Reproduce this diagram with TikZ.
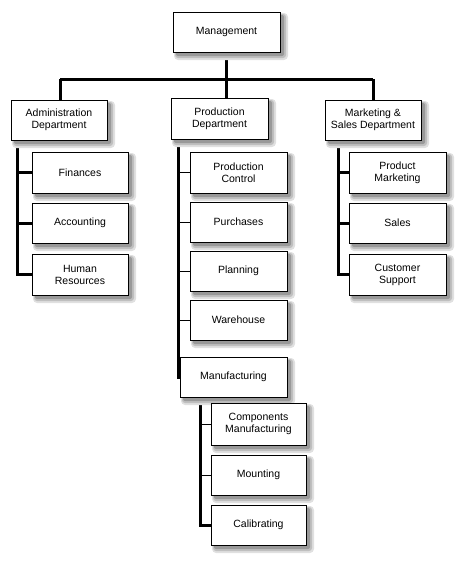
\documentclass[tikz,border=0pt]{standalone}
\usepackage{fontspec}
\setmainfont{Liberation Sans}
\begin{document}
\begin{tikzpicture}[x=1pt,y=-1pt,
  box/.style={draw=black,line width=1pt,fill=white,align=center,font=\fontsize{10.5}{12}\selectfont},
  shad/.style={fill=black!#1,draw=none},
  thick line/.style={line width=3pt},
  thin line/.style={line width=1pt}]
\useasboundingbox (0,0) rectangle (474,573);
\newcommand{\bx}[6]{%
  \fill[black!12,rounded corners=4pt] (#2+1,#4+1) rectangle (#3+8,#5+8);
  \fill[black!25,rounded corners=3pt] (#2+2,#4+2) rectangle (#3+6,#5+6);
  \fill[black!40,rounded corners=2pt] (#2+3,#4+3) rectangle (#3+4,#5+4);
  \node[box,minimum width=#3-#2,minimum height=#5-#4] (#1) at ({(#2+#3)/2},{(#4+#5)/2}) {#6};}
\coordinate (hl) at (60,79); \coordinate (hr) at (373,79);
\coordinate (al) at (17,140); \coordinate (pl) at (178,139); \coordinate (ml) at (338,140); \coordinate (fl) at (200,397);
\draw[thick line] (hl) -- (hr);
\draw[thick line] (226,52) -- (226,79);
\draw[thick line] (hl) -- (60,100);
\draw[thick line] (hr) -- (373,100);
\draw[thick line] (226,79) -- (226,98);
\draw[thick line] (al) -- (17,274) -- (32,274);
\draw[thick line] (17,172) -- (32,172);
\draw[thick line] (17,223) -- (32,223);
\draw[thick line] (pl) -- (178,377) -- (180,377);
\draw[thick line] (ml) -- (338,274) -- (349,274);
\draw[thick line] (338,172) -- (349,172);
\draw[thick line] (338,223) -- (349,223);
\draw[thick line] (fl) -- (200,525) -- (211,525);
\foreach \y in {172,222,271,320} \draw[thin line] (178,\y) -- (190,\y);
\foreach \y in {424,475} \draw[thin line] (200,\y) -- (211,\y);
\bx{mgmt}{173}{280}{12}{52}{Management}
\bx{adm}{11}{107}{100}{140}{Administration\\Department}
\bx{prod}{171}{268}{98}{139}{Production\\Department}
\bx{mkt}{325}{421}{100}{140}{Marketing \&\\Sales Department}
\bx{fin}{32}{128}{152}{193}{Finances}
\bx{acc}{32}{128}{203}{243}{Accounting}
\bx{hr}{32}{128}{254}{295}{Human\\Resources}
\bx{pc}{190}{287}{152}{193}{Production\\Control}
\bx{pur}{190}{287}{202}{242}{Purchases}
\bx{pla}{190}{287}{251}{291}{Planning}
\bx{war}{190}{287}{300}{340}{Warehouse}
\bx{man}{180}{287}{357}{397}{Manufacturing}
\bx{cm}{211}{306}{403}{445}{Components\\Manufacturing}
\bx{mou}{211}{306}{455}{495}{Mounting}
\bx{cal}{211}{306}{505}{545}{Calibrating}
\bx{pm}{349}{446}{152}{193}{Product\\Marketing}
\bx{sal}{349}{446}{203}{243}{Sales}
\bx{cs}{349}{446}{254}{295}{Customer\\Support}
\end{tikzpicture}
\end{document}
